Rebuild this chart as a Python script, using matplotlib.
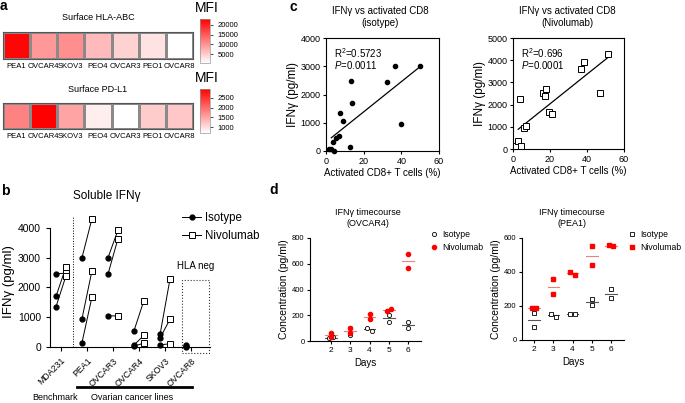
import numpy as np
import matplotlib
matplotlib.use("Agg")
import matplotlib.pyplot as plt
from matplotlib.colors import LinearSegmentedColormap
from matplotlib.lines import Line2D
from matplotlib.patches import Rectangle

plt.rcParams['font.family'] = ['Liberation Sans', 'DejaVu Sans']
plt.rcParams['mathtext.fontset'] = 'custom'
plt.rcParams['mathtext.rm'] = 'Liberation Sans'
plt.rcParams['mathtext.it'] = 'Liberation Sans:italic'
plt.rcParams['axes.linewidth'] = 0.8

# --- data ---
cell_lines_a = ["PEA1", "OVCAR4", "SKOV3", "PEO4", "OVCAR3", "PEO1", "OVCAR8"]
hla_mfi = [22500, 9500, 10500, 6500, 4500, 3000, 500]
pdl1_mfi = [1800, 2950, 1500, 850, 700, 1150, 1200]

lines_b = ["MDA231", "PEA1", "OVCAR3", "OVCAR4", "SKOV3", "OVCAR8"]
iso_b = [[2460, 1700, 1350], [3000, 950, 150], [3000, 2450, 1050],
         [550, 70, 30], [420, 300, 70], [80, 40, 10]]
niv_b = [[2480, 2680, 2380], [4300, 2550, 1670], [3920, 3630, 1040],
         [1560, 390, 130], [2270, 930, 110], [np.nan, np.nan, np.nan]]

cd8_iso = [1.8, 2.7, 4.4, 3.5, 5.3, 6.7, 7.6, 9.0, 12.7, 13.3, 14.0, 32.4, 36.8, 39.6, 49.9]
ifn_iso = [80, 60, 0, 310, 450, 540, 1345, 1050, 140, 2480, 1690, 2460, 3020, 940, 3000]
cd8_niv = [1.8, 2.5, 4.5, 4.0, 5.9, 7.2, 16.2, 17.7, 17.5, 19.5, 21.3, 36.8, 38.4, 47.2, 51.5]
ifn_niv = [135, 375, 135, 2265, 930, 1035, 2505, 2685, 2370, 1665, 1560, 3600, 3900, 2535, 4290]

days = [2, 3, 4, 5, 6]
ovcar4_iso = [[23, 28], [103, 46], [100, 80], [204, 147], [150, 98]]
ovcar4_niv = [[65, 31], [103, 59], [209, 168], [230, 245], [674, 566]]
pea1_iso = [[157, 78], [155, 135], [153, 153], [239, 206], [298, 249]]
pea1_niv = [[186, 186], [357, 272], [400, 384], [551, 441], [559, 551]]

RED = "#ff0000"
W, H = 685, 403


def px(l, t, r, b):
    return [l / W, 1 - b / H, (r - l) / W, (b - t) / H]


def ftext(x, y, s, **kw):
    fig.text(x / W, 1 - y / H, s, **kw)


fig = plt.figure(figsize=(6.85, 4.03), dpi=100)
cmap = LinearSegmentedColormap.from_list("wr", ["white", RED])

# --- a: heatmaps ---
for vals, box, cbox, vmin, vmax, cticks, title, ty, my in [
        (hla_mfi, (3, 32, 193, 59), (200, 19, 210, 63), 500, 23000,
         [5000, 10000, 15000, 20000], "Surface HLA-ABC", 18, 8),
        (pdl1_mfi, (3, 103, 193, 129), (200, 89, 210, 133), 700, 2950,
         [1000, 1500, 2000, 2500], "Surface PD-L1", 89, 78)]:
    ax = fig.add_axes(px(*box))
    m = ax.pcolormesh(np.array([vals]), cmap=cmap, vmin=vmin, vmax=vmax,
                      edgecolors="#8a8a8a", linewidth=0.8)
    ax.set_xlim(0, 7)
    ax.set_ylim(0, 1)
    ax.set_xticks(np.arange(7) + 0.5)
    ax.set_xticklabels(cell_lines_a, fontsize=5.5)
    ax.set_yticks([])
    ax.tick_params(axis="x", length=0, pad=3)
    for sp in ax.spines.values():
        sp.set_color("#555555")
    cax = fig.add_axes(px(*cbox))
    cb = fig.colorbar(m, cax=cax, ticks=cticks)
    cb.ax.tick_params(labelsize=5.5, length=2, width=0.5)
    cb.outline.set_edgecolor("#999999")
    cb.outline.set_linewidth(0.5)
    ftext(98, ty, title, fontsize=6.5, ha="center", va="center")
    ftext(195, my, "MFI", fontsize=10, ha="left", va="center")

ftext(0, 6, "a", fontsize=10, fontweight="bold", va="center")

# --- b: soluble IFNg ---
ax = fig.add_axes(px(50, 216, 210, 347))
off = 0.19
for i, (iso, niv) in enumerate(zip(iso_b, niv_b)):
    for a, b in zip(iso, niv):
        ax.plot([i - off, i + off], [a, b], color="black", lw=0.7, zorder=2)
    ax.plot([i - off] * len(iso), iso, "o", color="black", ms=3.5, zorder=3, clip_on=False)
    ax.plot([i + off] * len(niv), niv, "s", mfc="white", mec="black", mew=0.7,
            ms=4.5, zorder=3, clip_on=False)
ax.set_xlim(-0.42, 5.73)
ax.set_ylim(0, 4400)
ax.set_yticks([0, 1000, 2000, 3000, 4000])
ax.spines["left"].set_bounds(0, 4000)
ax.spines["right"].set_visible(False)
ax.spines["top"].set_visible(False)
ax.set_xticks(range(len(lines_b)))
ax.set_xticklabels(lines_b, rotation=45, ha="right", rotation_mode="anchor", fontsize=6.3)
ax.tick_params(axis="y", labelsize=7.5, length=3, width=0.8)
ax.tick_params(axis="x", length=3, width=0.8)
ax.set_ylabel("IFNγ (pg/ml)", fontsize=9.5, labelpad=2)
ax.axvline(0.46, color="black", ls=":", lw=0.7)
ax.add_patch(Rectangle((4.65, -200), 1.04, 2456, fill=False, ls=":", lw=0.8,
                       ec="#333333", clip_on=False))
ax.text(5.17, 2550, "HLA neg", fontsize=7, ha="center", va="bottom")
hb = [Line2D([], [], color="black", lw=0.7, marker="o", ms=3.5),
      Line2D([], [], color="black", lw=0.7, marker="s", ms=4.5, mfc="white", mew=0.7)]
fig.legend(hb, ["Isotype", "Nivolumab"], loc="center left", frameon=False, fontsize=8.3,
           bbox_to_anchor=(172 / W, 1 - 227 / H), handlelength=1.6, labelspacing=0.5,
           handletextpad=0.4)
ftext(107, 196, "Soluble IFNγ", fontsize=8.5, ha="center", va="center")
ftext(1, 191, "b", fontsize=10, fontweight="bold", va="center")
ftext(55, 397, "Benchmark", fontsize=6.5, ha="center", va="center")
ftext(132, 397, "Ovarian cancer lines", fontsize=6.5, ha="center", va="center")
fig.add_artist(Line2D([77 / W, 192 / W], [1 - 387 / H] * 2, color="black", lw=2))

# --- c: scatter with regression ---
for box, x, y, mk, ymax, ystep, r2, p, title, tx in [
        ((326, 38, 439, 151), cd8_iso, ifn_iso, "o", 4000, 1000, "0.5723", "0.0011",
         "IFNγ vs activated CD8\n(isotype)", 380),
        ((513, 38, 624, 149), cd8_niv, ifn_niv, "s", 5000, 1000, "0.696", "0.0001",
         "IFNγ vs activated CD8\n(Nivolumab)", 567)]:
    ax = fig.add_axes(px(*box))
    if mk == "o":
        ax.plot(x, y, "o", color="black", ms=3, clip_on=False, zorder=3)
    else:
        ax.plot(x, y, "s", mfc="white", mec="black", mew=0.7, ms=4, clip_on=False, zorder=3)
    k, c0 = np.polyfit(x, y, 1)
    xs = np.array([min(x) + 1, max(x)])
    ax.plot(xs, k * xs + c0, color="black", lw=0.9)
    ax.set_xlim(0, 60)
    ax.set_ylim(0, ymax)
    ax.set_xticks([0, 20, 40, 60])
    ax.set_yticks(np.arange(0, ymax + 1, ystep))
    ax.tick_params(labelsize=6.5, length=2.5, width=0.8, pad=1.5)
    ax.set_xlabel("Activated CD8+ T cells (%)", fontsize=7, labelpad=2)
    ax.set_ylabel("IFNγ (pg/ml)", fontsize=8.5, labelpad=1)
    ax.text(0.07, 0.93, "R$^2$=" + r2, transform=ax.transAxes, fontsize=7, va="top")
    ax.text(0.07, 0.81, "$P$=" + p, transform=ax.transAxes, fontsize=7, va="top")
    ftext(tx, 17, title, fontsize=7, ha="center", va="center", linespacing=1.2)
ftext(290, 7, "c", fontsize=10, fontweight="bold", va="center")

# --- d: timecourses ---
for box, iso, niv, xl, ymax, mk, title, tx, lx in [
        ((310, 238, 421, 341), ovcar4_iso, ovcar4_niv, 0.91, 800, "o",
         "IFNγ timecourse\n(OVCAR4)", 368, 424),
        ((522, 238, 624, 340), pea1_iso, pea1_niv, 1.37, 600, "s",
         "IFNγ timecourse\n(PEA1)", 572, 622)]:
    ax = fig.add_axes(px(*box))
    for d, a, b in zip(days, iso, niv):
        xo = [-0.12, 0.12] if abs(a[0] - a[1]) < 25 else [0, 0]
        ax.plot([d + o for o in xo], a, mk, mfc="white", mec="black", mew=0.6,
                ms=3, zorder=3, clip_on=False)
        ax.plot([d - 0.3, d + 0.3], [np.mean(a)] * 2, color="#555555", lw=0.8)
        xo = [-0.12, 0.12] if abs(b[0] - b[1]) < 25 else [0, 0]
        ax.plot([d + o for o in xo], b, mk, color=RED, ms=3, zorder=3, clip_on=False)
        ax.plot([d - 0.3, d + 0.3], [np.mean(b)] * 2, color="#f08080", lw=0.8)
    ax.set_xlim(xl, 6.67)
    ax.set_ylim(0, ymax)
    ax.set_xticks(days)
    ax.set_yticks(np.arange(0, ymax + 1, 200))
    ax.spines["right"].set_visible(False)
    ax.spines["top"].set_visible(False)
    ax.tick_params(labelsize=6, length=2.5, width=0.8, pad=1.5)
    ax.tick_params(axis="y", labelsize=5.5)
    ax.set_xlabel("Days", fontsize=7, labelpad=3)
    ax.set_ylabel("Concentration (pg/ml)", fontsize=7.5, labelpad=2)
    ftext(tx, 218, title, fontsize=6.5, ha="center", va="center", linespacing=1.2)
    hd = [Line2D([], [], ls="none", marker=mk, mfc="white", mec="black", mew=0.6, ms=3),
          Line2D([], [], ls="none", marker=mk, color=RED, ms=3)]
    fig.legend(hd, ["Isotype", "Nivolumab"], loc="center left", frameon=False, fontsize=6.2,
               bbox_to_anchor=(lx / W, 1 - 241 / H), handlelength=1.0, labelspacing=0.5,
               handletextpad=0.4, borderpad=0.2)
ftext(269, 190, "d", fontsize=10, fontweight="bold", va="center")

fig.savefig("out.png", dpi=100)
